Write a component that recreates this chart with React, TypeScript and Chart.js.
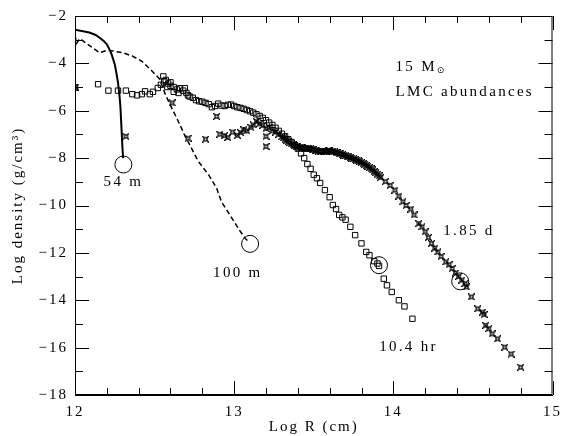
import { useEffect, useRef } from "react";
import { Chart, registerables } from "chart.js";

Chart.register(...registerables);

const FONT = "'Liberation Serif', 'DejaVu Serif', serif";

// Axis ticks
const xTicks = [12, 13, 14, 15];
const yTicks = [-18, -16, -14, -12, -10, -8, -6, -4, -2];
const xMinorStep = 0.2;
const yMinorStep = 1;

// 54 m (solid line)
const x54 = [12.0, 12.05, 12.09, 12.13, 12.155, 12.18, 12.2, 12.22, 12.23, 12.25, 12.26, 12.27, 12.28, 12.285, 12.29, 12.296, 12.302];
const y54 = [-2.58, -2.64, -2.7, -2.8, -2.92, -3.05, -3.2, -3.45, -3.62, -4.05, -4.4, -4.8, -5.4, -5.8, -6.45, -7.3, -8.0];

// 100 m (dashed line)
const x100 = [12.0, 12.01, 12.03, 12.05, 12.08, 12.11, 12.155, 12.2, 12.24, 12.3, 12.36, 12.42, 12.485, 12.53, 12.57, 12.62, 12.66, 12.69, 12.71, 12.775, 12.84, 12.89, 12.92, 12.96, 13.0, 13.04, 13.07, 13.095];
const y100 = [-2.8, -3.15, -2.95, -3.05, -3.2, -3.34, -3.55, -3.45, -3.48, -3.55, -3.69, -3.91, -4.33, -4.65, -5.35, -6.05, -6.6, -7.05, -7.3, -8.14, -8.71, -9.27, -9.84, -10.26, -10.69, -11.11, -11.39, -11.55];

// 10.4 hr (open squares)
const x104 = [12.0, 12.145, 12.21, 12.27, 12.32, 12.36, 12.39, 12.42, 12.44, 12.47, 12.49, 12.52, 12.54, 12.555, 12.56, 12.57, 12.58, 12.585, 12.6, 12.6, 12.62, 12.62, 12.64, 12.65, 12.66, 12.68, 12.69, 12.7, 12.71, 12.72, 12.74, 12.76, 12.78, 12.8, 12.82, 12.84, 12.86, 12.88, 12.9, 12.92, 12.94, 12.96, 12.98, 13.0, 13.02, 13.04, 13.06, 13.08, 13.1, 13.12, 13.14, 13.16, 13.18, 13.2, 13.22, 13.24, 13.26, 13.28, 13.3, 13.32, 13.34, 13.36, 13.38, 13.4, 13.42, 13.44, 13.46, 13.48, 13.5, 13.52, 13.54, 13.57, 13.6, 13.62, 13.64, 13.66, 13.68, 13.7, 13.73, 13.76, 13.8, 13.83, 13.85, 13.88, 13.9, 13.91, 13.94, 13.96, 13.99, 14.035, 14.07, 14.12];
const y104 = [-5.02, -4.88, -5.15, -5.15, -5.15, -5.3, -5.35, -5.3, -5.18, -5.3, -5.2, -5.04, -4.9, -4.55, -4.75, -4.7, -5.0, -4.85, -4.95, -4.8, -5.0, -5.2, -5.1, -5.25, -5.05, -5.15, -5.05, -5.25, -5.35, -5.4, -5.45, -5.55, -5.6, -5.62, -5.67, -5.72, -5.85, -5.8, -5.7, -5.78, -5.8, -5.75, -5.74, -5.8, -5.85, -5.88, -5.92, -5.97, -6.02, -6.08, -6.15, -6.22, -6.3, -6.4, -6.5, -6.6, -6.72, -6.85, -6.97, -7.08, -7.2, -7.32, -7.45, -7.6, -7.8, -8.0, -8.25, -8.45, -8.7, -8.85, -9.05, -9.35, -9.65, -9.98, -10.15, -10.4, -10.5, -10.6, -10.9, -11.25, -11.6, -11.96, -12.1, -12.35, -12.45, -12.55, -13.09, -13.37, -13.65, -14.0, -14.26, -14.78];

// 1.85 d (star markers)
const x185 = [12.0, 12.32, 12.61, 12.71, 12.82, 12.89, 12.91, 12.94, 12.96, 12.99, 13.02, 13.04, 13.06, 13.08, 13.105, 13.12, 13.14, 13.16, 13.18, 13.2, 13.2, 13.2, 13.22, 13.24, 13.26, 13.28, 13.3, 13.31, 13.32, 13.33, 13.34, 13.35, 13.36, 13.37, 13.38, 13.39, 13.4, 13.41, 13.42, 13.43, 13.44, 13.45, 13.46, 13.47, 13.48, 13.49, 13.5, 13.51, 13.52, 13.53, 13.54, 13.55, 13.56, 13.57, 13.58, 13.59, 13.6, 13.61, 13.62, 13.63, 13.64, 13.65, 13.66, 13.67, 13.68, 13.69, 13.7, 13.71, 13.72, 13.73, 13.74, 13.75, 13.76, 13.77, 13.78, 13.79, 13.8, 13.81, 13.82, 13.83, 13.84, 13.85, 13.86, 13.87, 13.88, 13.89, 13.9, 13.91, 13.92, 13.95, 13.98, 14.01, 14.035, 14.06, 14.08, 14.11, 14.13, 14.16, 14.18, 14.2, 14.22, 14.24, 14.26, 14.28, 14.3, 14.33, 14.35, 14.37, 14.39, 14.41, 14.43, 14.45, 14.46, 14.49, 14.53, 14.56, 14.57, 14.58, 14.6, 14.62, 14.655, 14.7, 14.74, 14.8];
const y185 = [-5.0, -7.08, -5.67, -7.16, -7.2, -6.24, -6.99, -7.05, -7.13, -6.9, -7.04, -6.92, -6.8, -6.85, -6.7, -6.6, -6.45, -6.55, -6.62, -6.75, -7.08, -7.51, -6.7, -6.85, -6.9, -7.0, -7.1, -7.15, -7.2, -7.25, -7.3, -7.35, -7.4, -7.44, -7.48, -7.5, -7.52, -7.54, -7.55, -7.57, -7.58, -7.59, -7.6, -7.6, -7.6, -7.62, -7.65, -7.66, -7.68, -7.7, -7.72, -7.72, -7.71, -7.7, -7.7, -7.69, -7.69, -7.7, -7.72, -7.74, -7.76, -7.78, -7.8, -7.82, -7.85, -7.87, -7.9, -7.92, -7.95, -7.97, -8.0, -8.03, -8.06, -8.09, -8.12, -8.15, -8.18, -8.22, -8.26, -8.3, -8.34, -8.4, -8.45, -8.5, -8.56, -8.62, -8.68, -8.75, -8.82, -8.99, -9.15, -9.35, -9.6, -9.84, -10.0, -10.15, -10.4, -10.76, -10.9, -11.11, -11.35, -11.6, -11.8, -11.96, -12.15, -12.38, -12.5, -12.66, -12.85, -13.0, -13.15, -13.3, -13.44, -13.86, -14.36, -14.5, -14.6, -15.06, -15.2, -15.42, -15.63, -15.98, -16.27, -16.83];

// Circled reference points
const xCirc = [12.304, 13.1, 13.91, 14.42];
const yCirc = [-8.27, -11.62, -12.52, -13.2];

// Text annotations (data coordinates)
const labels = [
  { text: "54 m", x: 12.304, y: -9.03, align: "center" },
  { text: "100 m", x: 13.023, y: -12.86, align: "center" },
  { text: "1.85 d", x: 14.475, y: -11.09, align: "center" },
  { text: "10.4 hr", x: 14.095, y: -15.98, align: "center" },
  { text: "LMC abundances", x: 14.014, y: -5.22, align: "left" },
];
const massLabel = { text: "15 M", sub: "⊙", x: 14.014, y: -4.15 };

const pts = (xs: number[], ys: number[]) => xs.map((x, i) => ({ x, y: ys[i] }));

function makeStar(): HTMLCanvasElement {
  const c = document.createElement("canvas");
  c.width = 7;
  c.height = 7;
  const g = c.getContext("2d")!;
  g.strokeStyle = "#000";
  g.lineWidth = 1.3;
  g.strokeRect(2, 2, 3, 3);
  g.beginPath();
  g.moveTo(0, 0); g.lineTo(2, 2);
  g.moveTo(7, 0); g.lineTo(5, 2);
  g.moveTo(0, 7); g.lineTo(2, 5);
  g.moveTo(7, 7); g.lineTo(5, 5);
  g.stroke();
  return c;
}

const framePlugin = {
  id: "frame",
  beforeDraw(chart: any) {
    chart.ctx.letterSpacing = "2px";
  },
  afterDraw(chart: any) {
    const { ctx, chartArea: a, scales } = chart;
    const xs = scales.x, ys = scales.y;
    ctx.save();
    ctx.strokeStyle = "#000";
    ctx.lineWidth = 1;
    ctx.strokeRect(a.left + 0.5, a.top + 0.5, a.right - a.left - 1, a.bottom - a.top - 1);
    ctx.beginPath();
    for (let v = xs.min; v <= xs.max + 1e-6; v += xMinorStep) {
      const r = Math.round(v * 10) / 10;
      const major = xTicks.some((t) => Math.abs(t - r) < 1e-6);
      const len = major ? 14 : 7;
      const px = Math.round(xs.getPixelForValue(r)) + 0.5;
      ctx.moveTo(px, a.bottom); ctx.lineTo(px, a.bottom - len);
      ctx.moveTo(px, a.top); ctx.lineTo(px, a.top + len);
    }
    for (let v = ys.min; v <= ys.max + 1e-6; v += yMinorStep) {
      const major = yTicks.includes(v);
      const len = major ? 14 : 8;
      const py = Math.round(ys.getPixelForValue(v)) + 0.5;
      ctx.moveTo(a.left, py); ctx.lineTo(a.left + len, py);
      ctx.moveTo(a.right, py); ctx.lineTo(a.right - len, py);
    }
    ctx.stroke();

    ctx.fillStyle = "#000";
    ctx.textBaseline = "middle";
    ctx.font = `15px ${FONT}`;
    ctx.letterSpacing = "2.3px";
    for (const l of labels) {
      ctx.textAlign = l.align as CanvasTextAlign;
      ctx.fillText(l.text, xs.getPixelForValue(l.x), ys.getPixelForValue(l.y));
    }
    ctx.textAlign = "left";
    const mx = xs.getPixelForValue(massLabel.x);
    const my = ys.getPixelForValue(massLabel.y);
    ctx.fillText(massLabel.text, mx, my);
    const w = ctx.measureText(massLabel.text).width;
    ctx.font = `9px 'DejaVu Sans', sans-serif`;
    ctx.letterSpacing = "0px";
    ctx.fillText(massLabel.sub, mx + w, my + 4);
    ctx.restore();
  },
};

export default function App() {
  const ref = useRef<HTMLCanvasElement>(null);
  useEffect(() => {
    const star = makeStar();
    const chart = new Chart(ref.current!, {
      type: "scatter",
      data: {
        datasets: [
          {
            label: "54 m",
            data: pts(x54, y54),
            showLine: true,
            borderColor: "#000",
            borderWidth: 2,
            pointRadius: 0,
            tension: 0,
          },
          {
            label: "100 m",
            data: pts(x100, y100),
            showLine: true,
            borderColor: "#000",
            borderWidth: 1.5,
            borderDash: [5, 3],
            pointRadius: 0,
            tension: 0,
          },
          {
            label: "10.4 hr",
            data: pts(x104, y104),
            showLine: false,
            pointStyle: "rect",
            pointRadius: 3.8,
            borderWidth: 1,
            borderColor: "#000",
            backgroundColor: "rgba(255,255,255,0)",
          },
          {
            label: "1.85 d",
            data: pts(x185, y185),
            showLine: false,
            pointStyle: star as any,
            pointRadius: 3.5,
            borderColor: "#000",
            backgroundColor: "#000",
          },
          {
            label: "marks",
            data: pts(xCirc, yCirc),
            showLine: false,
            pointStyle: "circle",
            pointRadius: 8.5,
            borderWidth: 1,
            borderColor: "#000",
            backgroundColor: "rgba(255,255,255,0)",
          },
        ],
      },
      options: {
        animation: false,
        responsive: false,
        devicePixelRatio: 1,
        layout: { padding: { top: 15, right: 9, left: 0, bottom: 0 } },
        plugins: { legend: { display: false }, tooltip: { enabled: false } },
        scales: {
          x: {
            type: "linear",
            min: 12,
            max: 15,
            grid: { display: false, drawTicks: false },
            border: { display: true, color: "#000" },
            afterFit: (s: any) => { s.height = 41; },
            afterBuildTicks: (s: any) => { s.ticks = xTicks.map((v) => ({ value: v })); },
            ticks: { color: "#000", padding: 8, font: { family: FONT, size: 15 } },
            title: {
              display: true,
              text: "Log R (cm)",
              color: "#000",
              padding: { top: 0, bottom: 0 },
              font: { family: FONT, size: 15 },
            },
          },
          y: {
            type: "linear",
            min: -18,
            max: -2,
            grid: { display: false, drawTicks: false },
            border: { display: true, color: "#000" },
            afterFit: (s: any) => { s.width = 75; },
            afterBuildTicks: (s: any) => { s.ticks = yTicks.map((v) => ({ value: v })); },
            ticks: {
              color: "#000",
              padding: 7,
              font: { family: FONT, size: 15 },
              callback: (v: any) => (Number(v) < 0 ? "\u2212" + Math.abs(Number(v)) : String(v)),
            },
            title: {
              display: true,
              text: "Log density (g/cm³)",
              color: "#000",
              padding: { top: 9, bottom: 0 },
              font: { family: FONT, size: 15 },
            },
          },
        },
      },
      plugins: [framePlugin],
    });
    return () => chart.destroy();
  }, []);
  return (
    <div style={{ position: "fixed", left: 0, top: 0, width: 568, height: 436, background: "#fff" }}>
      <canvas ref={ref} width={568} height={436} style={{ width: 568, height: 436 }} />
    </div>
  );
}
